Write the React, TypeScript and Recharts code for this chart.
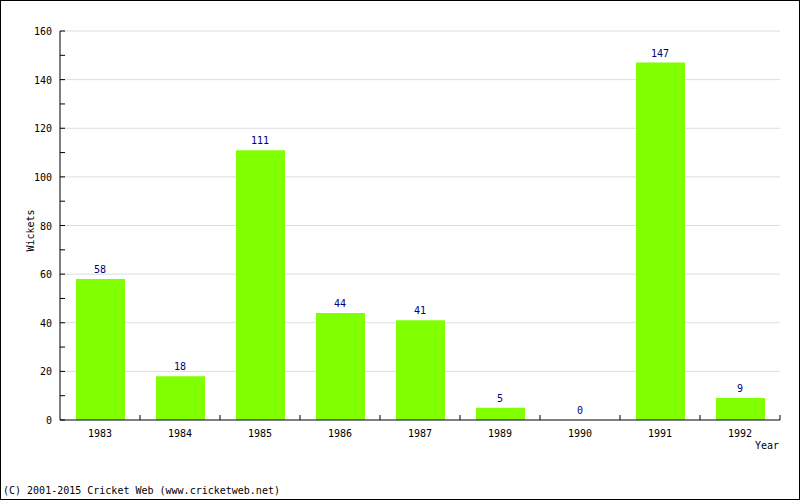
import { ComposedChart, Bar, Line, XAxis, YAxis, CartesianGrid, LabelList, Label } from 'recharts';

const years = ['1983', '1984', '1985', '1986', '1987', '1989', '1990', '1991', '1992'];
const wickets = [58, 18, 111, 44, 41, 5, 0, 147, 9];
const yTicks = [0, 10, 20, 30, 40, 50, 60, 70, 80, 90, 100, 110, 120, 130, 140, 150, 160];
const gridValues = [20, 40, 60, 80, 100, 120, 140, 160];

const chartData = years.map((year, i) => ({ year, wickets: wickets[i] }));

const FONT = '"DejaVu Sans Mono", monospace';
const W = 800;
const H = 500;
const MARGIN = { top: 31, right: 20, bottom: 0, left: 0 };
const BAND = (W - 60 - MARGIN.right) / years.length;

// y ticks point inward, labels only on every second tick
const YTick = ({ x, y, payload }: any) => (
  <g>
    <line x1={x} x2={x + 5} y1={y} y2={y} stroke="#000" />
    {payload.value % 20 === 0 && (
      <text x={x - 8} y={y + 4} textAnchor="end" fontFamily={FONT} fontSize={10} fill="#000">
        {payload.value}
      </text>
    )}
  </g>
);

// x ticks sit on the category boundaries and point up
const XTick = ({ x, y, payload }: any) => (
  <g>
    <line x1={x + BAND / 2} x2={x + BAND / 2} y1={y} y2={y - 5} stroke="#000" />
    <text x={x} y={y + 17} textAnchor="middle" fontFamily={FONT} fontSize={10} fill="#000">
      {payload.value}
    </text>
  </g>
);

export default function App() {
  return (
    <div style={{ position: 'absolute', left: 0, top: 0, width: W, height: H, background: '#fff' }}>
      <ComposedChart width={W} height={H} data={chartData} margin={MARGIN}>
        <CartesianGrid vertical={false} horizontalValues={gridValues} stroke="#dddddd" />
        <XAxis
          dataKey="year"
          height={80}
          tickSize={0}
          tickMargin={0}
          tick={<XTick />}
          axisLine={{ stroke: '#000' }}
          interval={0}
        >
          <Label
            content={({ viewBox }: any) => (
              <text
                x={viewBox.x + viewBox.width - 1}
                y={viewBox.y + 29}
                textAnchor="end"
                fontFamily={FONT}
                fontSize={10}
                fill="#000"
              >
                Year
              </text>
            )}
          />
        </XAxis>
        <YAxis
          width={60}
          domain={[0, 160]}
          ticks={yTicks}
          interval={0}
          tickSize={0}
          tickMargin={0}
          tick={<YTick />}
          axisLine={{ stroke: '#000' }}
        >
          <Label
            content={({ viewBox }: any) => {
              const cx = viewBox.x + 34;
              const cy = viewBox.y + viewBox.height / 2 + 5;
              return (
                <text
                  x={cx}
                  y={cy}
                  transform={`rotate(-90 ${cx} ${cy})`}
                  textAnchor="middle"
                  fontFamily={FONT}
                  fontSize={10}
                  fill="#000"
                >
                  Wickets
                </text>
              );
            }}
          />
        </YAxis>
        <Bar dataKey="wickets" fill="#80ff00" barSize={49} isAnimationActive={false} />
        {/* invisible line just to carry the value labels, so 0 gets one too */}
        <Line
          dataKey="wickets"
          stroke="none"
          dot={false}
          activeDot={false}
          isAnimationActive={false}
        >
          <LabelList
            dataKey="wickets"
            position="top"
            offset={6}
            fill="#000080"
            fontFamily={FONT}
            fontSize={10}
          />
        </Line>
      </ComposedChart>
      <div
        style={{
          position: 'absolute',
          left: 3,
          top: 485,
          fontFamily: FONT,
          fontSize: 10,
          color: '#000',
          whiteSpace: 'pre',
        }}
      >
        (C) 2001-2015 Cricket Web (www.cricketweb.net)
      </div>
      <div
        style={{
          position: 'absolute',
          left: 0,
          top: 0,
          width: W,
          height: H,
          boxSizing: 'border-box',
          border: '1px solid #000',
          pointerEvents: 'none',
        }}
      />
    </div>
  );
}
